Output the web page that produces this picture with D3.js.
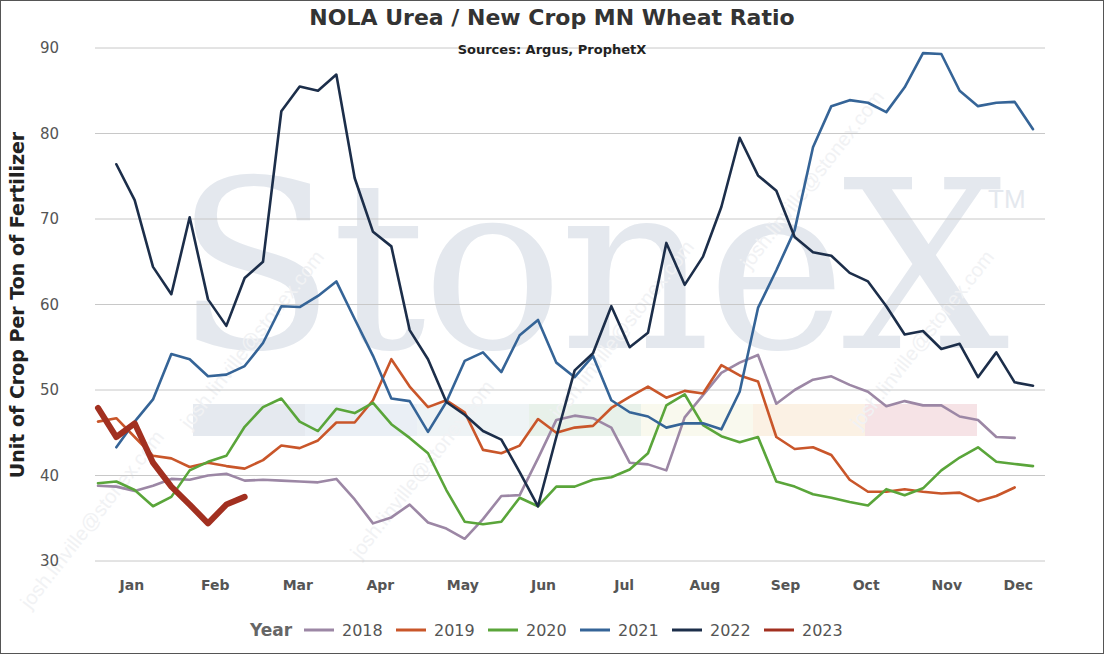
<!DOCTYPE html>
<html>
<head>
<meta charset="utf-8">
<script src="https://cdn.jsdelivr.net/npm/d3@7"></script>
<style>
  body { margin: 0; background: #fff; }
  svg { display: block; font-family: Verdana, "DejaVu Sans", sans-serif; }
</style>
</head>
<body>
<svg id="chart" width="1104" height="654"></svg>
<script>
'use strict';

// weekly values, index 0 = first week of Jan
const years = ['2018', '2019', '2020', '2021', '2022', '2023'];
const colors = ['#9c87a5', '#c9562a', '#5aa53a', '#356497', '#1c2e4a', '#a23020'];

const s2018 = [38.8, 38.7, 38.2, 38.8, 39.6, 39.5, 40.0, 40.2, 39.4, 39.5, 39.4, 39.3, 39.2, 39.6, 37.2, 34.4, 35.1, 36.6, 34.5, 33.8,
  32.6, 34.9, 37.6, 37.7, 42.0, 46.5, 47.0, 46.7, 45.6, 41.5, 41.3, 40.6, 46.8, 49.4, 52.0, 53.2, 54.1, 48.4, 50.0, 51.2,
  51.6, 50.6, 49.8, 48.1, 48.7, 48.2, 48.2, 46.9, 46.5, 44.5, 44.4];
const s2019 = [46.3, 46.7, 44.5, 42.3, 42.0, 41.0, 41.5, 41.1, 40.8, 41.8, 43.5, 43.2, 44.1, 46.2, 46.2, 48.8, 53.6, 50.4, 48.0, 48.8,
  47.4, 43.0, 42.6, 43.5, 46.6, 45.0, 45.6, 45.8, 47.9, 49.2, 50.4, 49.1, 49.9, 49.6, 52.9, 51.7, 51.0, 44.5, 43.1, 43.3,
  42.4, 39.5, 38.1, 38.1, 38.4, 38.1, 37.9, 38.0, 37.0, 37.6, 38.6];
const s2020 = [39.1, 39.3, 38.3, 36.4, 37.5, 40.6, 41.6, 42.3, 45.7, 48.0, 49.0, 46.3, 45.2, 47.8, 47.3, 48.5, 46.0, 44.4, 42.6, 38.3,
  34.6, 34.3, 34.6, 37.4, 36.4, 38.7, 38.7, 39.5, 39.8, 40.7, 42.6, 48.2, 49.5, 45.9, 44.6, 43.9, 44.5, 39.3, 38.7, 37.8,
  37.4, 36.9, 36.5, 38.4, 37.7, 38.5, 40.6, 42.1, 43.3, 41.6, 41.35, 41.1];
const s2021 = [null, 43.3, 46.3, 48.9, 54.2, 53.6, 51.6, 51.8, 52.8, 55.5, 59.8, 59.7, 61.0, 62.7, 58.3, 54.0, 49.0, 48.7, 45.1, 48.6,
  53.4, 54.4, 52.1, 56.4, 58.2, 53.2, 51.5, 54.0, 48.8, 47.4, 46.9, 45.6, 46.1, 46.1, 45.4, 49.8, 59.6, 64.0, 68.7, 78.4,
  83.2, 83.9, 83.6, 82.5, 85.4, 89.4, 89.3, 85.0, 83.2, 83.6, 83.7, 80.5];
const s2022 = [null, 76.4, 72.2, 64.4, 61.2, 70.2, 60.6, 57.5, 63.1, 65.0, 82.6, 85.5, 85.0, 86.9, 74.8, 68.5, 66.8, 57.0, 53.6, 48.6,
  47.1, 45.2, 44.2, 40.4, 36.4, 44.5, 52.3, 54.3, 59.8, 55.0, 56.7, 67.2, 62.3, 65.6, 71.4, 79.5, 75.1, 73.3, 67.9, 66.1,
  65.7, 63.7, 62.7, 59.8, 56.5, 56.9, 54.8, 55.4, 51.5, 54.4, 50.9, 50.5];
const s2023 = [47.9, 44.5, 46.1, 41.5, 38.7, 36.6, 34.4, 36.6, 37.5];
const seriesValues = [s2018, s2019, s2020, s2021, s2022, s2023];

const months = ['Jan', 'Feb', 'Mar', 'Apr', 'May', 'Jun', 'Jul', 'Aug', 'Sep', 'Oct', 'Nov', 'Dec'];
const monthWeeks = [1.85, 6.4, 10.9, 15.4, 19.9, 24.3, 28.7, 33.1, 37.5, 41.9, 46.3, 50.2];
const yTicks = [30, 40, 50, 60, 70, 80, 90];

const svg = d3.select('#chart');
const W = 1104, H = 654;

const x = d3.scaleLinear().domain([0, 51]).range([98, 1033]);
const y = d3.scaleLinear().domain([30, 90]).range([561, 48]);

// frame
svg.append('rect').attr('x', 0.5).attr('y', 0.5).attr('width', W - 1).attr('height', H - 1)
  .attr('fill', '#fff').attr('stroke', '#555').attr('stroke-width', 1);

// watermark
const wm = svg.append('g');
wm.append('text').attr('x', 590).attr('y', 348).attr('text-anchor', 'middle')
  .attr('font-family', '"DejaVu Serif", "Liberation Serif", serif').attr('font-size', 235)
  .attr('fill', '#e4e8ee').attr('letter-spacing', -4).text('StoneX');
wm.append('text').attr('x', 988).attr('y', 208).attr('font-size', 26).attr('font-family', 'Arial, sans-serif')
  .attr('fill', '#e4e8ee').text('TM');
const bandColors = ['#e5e9ef', '#eaeff5', '#eef3f5', '#e8f1ea', '#f9f9ee', '#fbf1e4', '#f6e3e6'];
bandColors.forEach((c, i) => {
  wm.append('rect').attr('x', 193 + i * 112).attr('y', 404).attr('width', 112).attr('height', 32).attr('fill', c);
});
[[30, 610], [190, 430], [360, 560], [560, 420], [750, 270], [860, 430]]
  .forEach(p => {
    wm.append('text').attr('transform', `translate(${p[0]},${p[1]}) rotate(-52)`)
      .attr('font-size', 20).attr('font-family', 'Verdana, sans-serif')
      .attr('fill', '#f1f2f4').text('josh.linville@stonex.com');
  });

// grid
svg.append('g').selectAll('line').data(yTicks).join('line')
  .attr('x1', 95).attr('x2', 1045)
  .attr('y1', d => y(d)).attr('y2', d => y(d))
  .attr('stroke', '#c8c8c8').attr('stroke-width', 1);

// y axis labels
svg.append('g').selectAll('text').data(yTicks).join('text')
  .attr('x', 59).attr('y', d => y(d) + 5).attr('text-anchor', 'end')
  .attr('font-size', 15).attr('fill', '#555').text(d => d);

// month labels
svg.append('g').selectAll('text').data(months).join('text')
  .attr('x', (d, i) => x(monthWeeks[i])).attr('y', 590).attr('text-anchor', 'middle')
  .attr('font-size', 14).attr('font-weight', 'bold').attr('fill', '#555').text(d => d);

// lines
const line = d3.line().defined(d => d != null).x((d, i) => x(i)).y(d => y(d));
svg.append('g').selectAll('path').data(seriesValues).join('path')
  .attr('d', d => line(d))
  .attr('fill', 'none')
  .attr('stroke', (d, i) => colors[i])
  .attr('stroke-width', (d, i) => i === 5 ? 6 : 2.6)
  .attr('stroke-linejoin', 'round').attr('stroke-linecap', 'round');

// titles
svg.append('text').attr('x', 552).attr('y', 25).attr('text-anchor', 'middle')
  .attr('font-size', 22).attr('font-weight', 'bold').attr('fill', '#333')
  .text('NOLA Urea / New Crop MN Wheat Ratio');
svg.append('text').attr('x', 552).attr('y', 54).attr('text-anchor', 'middle')
  .attr('font-size', 13).attr('font-weight', 'bold').attr('fill', '#222')
  .text('Sources: Argus, ProphetX');
svg.append('text').attr('transform', 'translate(24,305) rotate(-90)').attr('text-anchor', 'middle')
  .attr('font-size', 19).attr('font-weight', 'bold').attr('fill', '#222')
  .text('Unit of Crop Per Ton of Fertilizer');

// legend
const lg = svg.append('g');
lg.append('text').attr('x', 250).attr('y', 636).attr('font-size', 17).attr('font-weight', 'bold')
  .attr('fill', '#666').text('Year');
const item = lg.selectAll('g').data(years).join('g')
  .attr('transform', (d, i) => `translate(${304 + i * 92},630)`);
item.append('line').attr('x1', 0).attr('x2', 30).attr('stroke', (d, i) => colors[i]).attr('stroke-width', 3);
item.append('text').attr('x', 38).attr('y', 6).attr('font-size', 16).attr('fill', '#555').text(d => d);
</script>
</body>
</html>
